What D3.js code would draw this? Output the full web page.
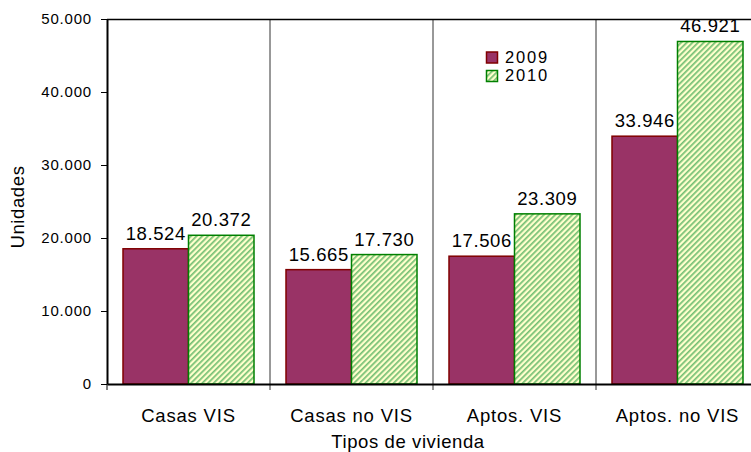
<!DOCTYPE html>
<html>
<head>
<meta charset="utf-8">
<script src="https://cdn.jsdelivr.net/npm/d3@7"></script>
<style>
  html, body { margin: 0; padding: 0; background: #fff; }
  svg { display: block; font-family: "Liberation Sans", Arial, sans-serif; }
</style>
</head>
<body>
<svg id="chart" width="751" height="452"></svg>
<script>
// Viviendas por tipo, 2009 vs 2010
const categories = ["Casas VIS", "Casas no VIS", "Aptos. VIS", "Aptos. no VIS"];
const seriesNames = ["2009", "2010"];
const values2009 = [18524, 15665, 17506, 33946];
const values2010 = [20372, 17730, 23309, 46921];
const yTicks = [0, 10000, 20000, 30000, 40000, 50000];

const fmt = d3.formatLocale({ decimal: ",", thousands: ".", grouping: [3], currency: ["$", ""] }).format(",d");
const FONT = "Liberation Sans, Arial, sans-serif";

const svg = d3.select("#chart");
const plotLeft = 107, plotTop = 19, plotRight = 759, plotBottom = 384;
const plotW = plotRight - plotLeft, plotH = plotBottom - plotTop;

const defs = svg.append("defs");
const pat = defs.append("pattern")
  .attr("id", "hatch2010")
  .attr("patternUnits", "userSpaceOnUse")
  .attr("width", 4).attr("height", 4)
  .attr("patternTransform", "rotate(45)");
pat.append("rect").attr("width", 4).attr("height", 4).attr("fill", "#ffffcc");
pat.append("rect").attr("x", 0).attr("width", 1.7).attr("height", 4).attr("fill", "#74bf74");

const g = svg.append("g").attr("transform", `translate(${plotLeft},${plotTop})`);

const x0 = d3.scaleBand().domain(categories).range([0, plotW]).paddingInner(0).paddingOuter(0);
const x1 = d3.scaleBand().domain(seriesNames).range([16, x0.bandwidth() - 16]).padding(0);
const y = d3.scaleLinear().domain([0, 50000]).range([plotH, 0]);

// category separators
g.selectAll("line.sep")
  .data(categories.slice(1))
  .join("line")
  .attr("x1", d => x0(d)).attr("x2", d => x0(d))
  .attr("y1", 0).attr("y2", plotH + 6)
  .attr("stroke", "#333").attr("stroke-width", 1);

// top border
g.append("line").attr("x1", 0).attr("x2", plotW).attr("y1", 0.5).attr("y2", 0.5)
  .attr("stroke", "#000").attr("stroke-width", 1.5);

const rows = categories.map((c, i) => ({ cat: c, vals: [values2009[i], values2010[i]] }));

const groups = g.selectAll("g.cat").data(rows).join("g")
  .attr("transform", d => `translate(${x0(d.cat)},0)`);

groups.selectAll("rect").data(d => d.vals.map((v, j) => ({ s: seriesNames[j], v })))
  .join("rect")
  .attr("x", d => x1(d.s))
  .attr("y", d => y(d.v))
  .attr("width", x1.bandwidth())
  .attr("height", d => plotH - y(d.v))
  .attr("fill", d => d.s === "2009" ? "#993366" : "url(#hatch2010)")
  .attr("stroke", d => d.s === "2009" ? "#800000" : "#008000")
  .attr("stroke-width", 1.5);

groups.selectAll("text").data(d => d.vals.map((v, j) => ({ s: seriesNames[j], v })))
  .join("text")
  .attr("x", d => x1(d.s) + x1.bandwidth() / 2)
  .attr("y", d => y(d.v) - 9)
  .attr("text-anchor", "middle")
  .attr("font-size", 18.5)
  .attr("letter-spacing", 0.6)
  .attr("fill", "#000")
  .text(d => fmt(d.v));

// y axis
const yAxis = g.append("g").call(d3.axisLeft(y).tickValues(yTicks).tickFormat(fmt).tickSize(6).tickSizeOuter(0));
yAxis.select(".domain").attr("stroke", "#000").attr("stroke-width", 2);
yAxis.selectAll(".tick line").attr("stroke", "#000");
yAxis.selectAll(".tick text").attr("font-size", 15).attr("letter-spacing", 0.8)
  .attr("font-family", FONT).attr("fill", "#000").attr("dx", -6);

// x axis
const xAxis = g.append("g").attr("transform", `translate(0,${plotH})`)
  .call(d3.axisBottom(x0).tickSize(0).tickSizeOuter(0));
xAxis.select(".domain").attr("stroke", "#000").attr("stroke-width", 2);
xAxis.selectAll(".tick text").attr("font-size", 18.5).attr("letter-spacing", 0.8)
  .attr("font-family", FONT).attr("fill", "#000")
  .attr("y", 0).attr("dy", 0).attr("transform", "translate(0,37.5)");
g.append("line").attr("x1", 0).attr("x2", 0).attr("y1", plotH).attr("y2", plotH + 6).attr("stroke", "#000");

// axis titles
svg.append("text")
  .attr("transform", "translate(24,207) rotate(-90)")
  .attr("text-anchor", "middle").attr("font-size", 18.5).attr("letter-spacing", 0.6).text("Unidades");
svg.append("text")
  .attr("x", 408).attr("y", 448)
  .attr("text-anchor", "middle").attr("font-size", 18.5).attr("letter-spacing", 0.6).text("Tipos de vivienda");

// legend
const legend = svg.append("g").attr("transform", "translate(486,52)");
seriesNames.forEach((s, i) => {
  const row = legend.append("g").attr("transform", `translate(0,${i * 18.5})`);
  row.append("rect").attr("x", 0.5).attr("y", 0).attr("width", 11).attr("height", 11)
    .attr("fill", s === "2009" ? "#993366" : "url(#hatch2010)")
    .attr("stroke", s === "2009" ? "#800000" : "#008000").attr("stroke-width", 1.5);
  row.append("text").attr("x", 19).attr("y", 10.5).attr("font-size", 16.5)
    .attr("letter-spacing", 1.8).text(s);
});
</script>
</body>
</html>
